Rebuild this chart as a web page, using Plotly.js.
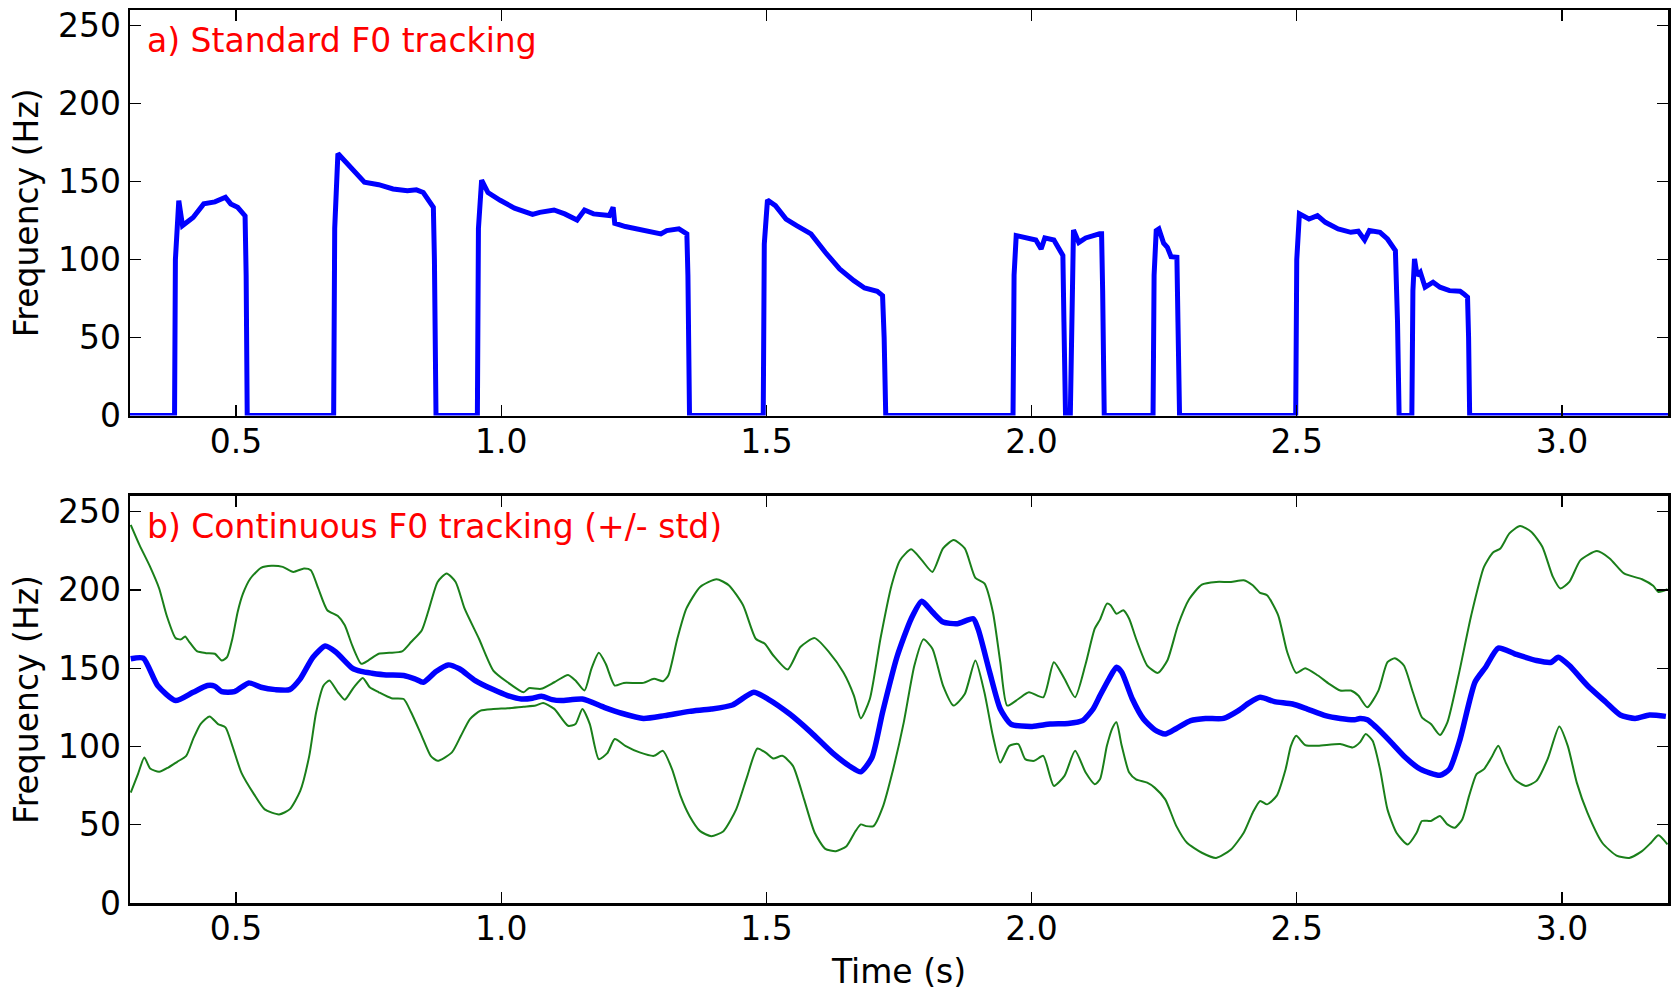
<!DOCTYPE html>
<html>
<head>
<meta charset="utf-8">
<script src="https://cdn.plot.ly/plotly-3.0.1.min.js"></script>
<style>html,body{margin:0;padding:0;background:#fff;}#chart{width:1671px;height:993px;}</style>
</head>
<body>
<div id="chart"></div>
<script>
// ---- Panel a) standard F0 tracking (0 = unvoiced) ----
const tStd = [0.30,0.384,0.3856,0.392,0.399,0.419,0.439,0.46,0.48,0.49,0.503,0.517,0.519,0.521,
  0.684,0.686,0.692,0.719,0.742,0.769,0.796,0.823,0.84,0.853,0.863,0.872,0.874,0.877,
  0.955,0.957,0.963,0.975,0.998,1.025,1.059,1.0726,1.0995,1.1197,1.143,1.157,1.174,1.204,1.211,1.214,1.234,1.254,1.275,1.301,1.312,1.335,1.35,1.352,1.355,
  1.494,1.496,1.502,1.517,1.537,1.557,1.584,1.611,1.638,1.665,1.685,1.709,1.719,1.722,1.725,
  1.965,1.967,1.971,1.988,2.008,2.018,2.025,2.042,2.052,2.059,2.061,2.064,2.073,2.076,2.079,2.089,2.102,2.128,2.132,2.134,2.137,
  2.229,2.231,2.235,2.24,2.249,2.256,2.263,2.274,2.276,2.279,
  2.498,2.500,2.505,2.523,2.539,2.554,2.578,2.602,2.616,2.628,2.637,2.657,2.671,2.686,2.690,2.693,
  2.717,2.719,2.722,2.727,2.733,2.742,2.757,2.77,2.788,2.808,2.815,2.822,2.824,2.826,3.20];
const f0Std = [0,0,100,137.8,121.8,127,135.7,137,140,135.7,133.5,128,90,0,
  0,120,168,158,149.6,148,145.3,144.2,144.7,143,137.8,133.5,100,0,
  0,120,151,143,138,133,129,130.3,131.8,129.3,125.4,131.8,129.3,128.2,133.5,123.3,121.2,119.7,118.6,116.5,118.6,119.7,116.5,90,0,
  0,110,138.2,134.6,126,121.8,116.5,104.7,94,86.5,81.8,79.7,76.9,50,0,
  0,90,115.4,113.9,112.6,106.8,113.9,112.6,105.8,102.6,60,0,0,90,119,111,113.9,116.5,116.5,80,0,
  0,90,118.6,119.7,110.5,107.9,101.9,101.5,60,0,
  0,100,129.3,126,128.2,123.9,119.7,117.5,118.2,112.6,118.6,117.5,113.2,105.8,60,0,
  0,80,100.4,89.7,91.9,82.3,85.5,82.3,80.1,79.7,78,75.9,50,0,0];

// ---- Panel b) continuous F0 tracking: mean ----
const tMean = [0.3014,0.325,0.352,0.386,0.419,0.446,0.46,0.473,0.497,0.524,0.547,0.574,0.601,0.621,0.645,0.668,0.688,0.719,0.736,0.756,0.783,0.816,0.837,0.853,0.877,0.90,0.921,0.951,0.985,1.012,1.038,1.059,1.076,1.096,1.113,1.153,1.194,1.227,1.268,1.308,1.355,1.396,1.436,1.476,1.503,1.544,1.584,1.625,1.658,1.678,1.699,1.719,1.746,1.773,1.793,1.813,1.833,1.86,1.89,1.90,1.921,1.941,1.961,2.001,2.035,2.069,2.096,2.116,2.129,2.146,2.16,2.17,2.19,2.211,2.232,2.252,2.273,2.30,2.328,2.362,2.39,2.41,2.431,2.458,2.492,2.52,2.554,2.582,2.609,2.619,2.633,2.65,2.678,2.705,2.733,2.77,2.788,2.808,2.836,2.856,2.88,2.911,2.952,2.98,2.993,3.014,3.048,3.083,3.11,3.138,3.165,3.196];
const f0Mean = [156,156.4,138.9,129.3,134.6,138.9,138.5,135,135,140.6,137.8,136.3,136.3,143.2,157,164.1,160.3,150,147.9,146.8,145.7,145.3,143.2,141,147.9,152.1,149.6,142.1,136.3,132.5,130.3,130.8,132.1,129.9,129.3,130.3,125,121.2,117.9,119.7,122.4,123.9,126.5,134.6,130.3,120.7,109,95.7,87.2,83.8,92.9,121.8,157,181.6,192.7,185.9,179.5,178.4,181.6,174.1,147.4,123.9,114.3,112.8,114.3,114.7,116.5,123.9,132.5,143.2,150.6,147.4,130.3,117.5,110.7,107.9,111.5,116.5,117.9,117.9,122.9,127.8,131.4,128.6,127.1,123.9,119.7,117.9,117.1,117.9,117.1,112.2,102.6,92.9,85.5,81.6,85.5,104.7,141,150.6,162.8,159.2,154.9,153.8,157,151.7,138.9,128.2,120.1,117.9,120.1,119.2];

// ---- Panel b) mean + std ----
const tUpper = [0.3014,0.318,0.338,0.355,0.369,0.386,0.396,0.404,0.412,0.426,0.443,0.46,0.473,0.483,0.493,0.503,0.513,0.527,0.547,0.567,0.588,0.608,0.628,0.641,0.655,0.672,0.692,0.705,0.719,0.736,0.749,0.769,0.789,0.813,0.83,0.85,0.863,0.88,0.897,0.914,0.931,0.958,0.985,1.012,1.042,1.052,1.075,1.10,1.126,1.14,1.157,1.17,1.184,1.197,1.214,1.231,1.268,1.288,1.305,1.315,1.332,1.349,1.375,1.406,1.429,1.456,1.48,1.497,1.513,1.54,1.564,1.591,1.618,1.645,1.665,1.678,1.695,1.715,1.736,1.752,1.773,1.793,1.813,1.833,1.853,1.874,1.894,1.911,1.927,1.941,1.954,1.975,1.995,2.022,2.042,2.062,2.082,2.102,2.119,2.129,2.142,2.149,2.16,2.173,2.184,2.197,2.218,2.238,2.256,2.276,2.297,2.321,2.348,2.376,2.40,2.417,2.431,2.444,2.465,2.482,2.499,2.516,2.54,2.561,2.582,2.602,2.616,2.633,2.654,2.671,2.685,2.702,2.719,2.736,2.753,2.77,2.784,2.805,2.829,2.853,2.87,2.884,2.901,2.921,2.942,2.963,2.983,2.997,3.014,3.035,3.066,3.09,3.117,3.151,3.172,3.182,3.199];
const f0Upper = [241.5,228.6,214.7,200.9,183.8,169.2,168.4,170.3,166.7,160.9,159.6,159.2,154.9,157,168.8,185.9,197.6,207.3,214.1,215.4,214.7,211.5,213.7,212.6,200.9,187,183.3,177.4,164.5,152.8,154.9,159.2,159.8,160.7,166.7,174.1,187,205.1,210.5,205.1,188,168.8,148.5,141,134.6,137.2,136.8,141,145.7,142.1,135.7,149.6,159.8,152.8,138.9,140.6,140.6,143.2,141.7,145.3,168.8,188,201.9,206.8,203,190.2,168.8,165.6,158.1,149.1,163.5,169.2,160.3,147.4,132.5,117.9,130.3,168.8,203,219,225.9,219,211.5,226.5,231.8,226.5,207.7,204.1,185.9,153.8,126.1,130.3,134.6,131.4,153.8,143.2,131.4,152.8,175.2,181,191.2,190.2,184.8,187,181.6,168.8,151.7,147,154.9,177.4,194,203.4,205.1,205.1,206.2,203,198.1,196.6,183.8,160.3,147,150,145.3,140,135.7,135.7,132.5,125,135.7,153.8,156.4,151.7,134.6,118.6,114.3,107.3,115.4,145.3,183.8,214.7,223.9,226.5,236.1,240.8,237.2,227.6,208.3,200.9,205.1,219,224.8,220.1,210.5,206.8,202.6,198.7,200.4];

// ---- Panel b) mean - std ----
const tLower = [0.3014,0.315,0.327,0.338,0.355,0.372,0.389,0.406,0.419,0.433,0.45,0.466,0.48,0.493,0.51,0.534,0.554,0.581,0.601,0.621,0.638,0.651,0.665,0.676,0.692,0.705,0.722,0.739,0.752,0.769,0.793,0.816,0.83,0.85,0.867,0.88,0.907,0.924,0.941,0.961,0.985,1.012,1.042,1.065,1.079,1.10,1.126,1.14,1.153,1.167,1.184,1.20,1.214,1.234,1.261,1.288,1.305,1.322,1.338,1.355,1.375,1.396,1.419,1.443,1.463,1.483,1.50,1.513,1.53,1.55,1.571,1.591,1.611,1.631,1.651,1.668,1.678,1.688,1.702,1.719,1.739,1.759,1.779,1.796,1.813,1.833,1.853,1.874,1.894,1.911,1.927,1.941,1.958,1.975,1.988,2.005,2.022,2.042,2.062,2.082,2.102,2.119,2.129,2.142,2.153,2.16,2.17,2.184,2.197,2.218,2.232,2.252,2.273,2.293,2.321,2.348,2.376,2.40,2.417,2.431,2.444,2.462,2.479,2.489,2.499,2.516,2.54,2.582,2.606,2.619,2.63,2.643,2.657,2.671,2.688,2.709,2.726,2.736,2.753,2.77,2.784,2.798,2.812,2.825,2.839,2.853,2.867,2.88,2.894,2.911,2.932,2.952,2.973,2.995,3.011,3.028,3.048,3.076,3.103,3.127,3.151,3.168,3.182,3.199];
const f0Lower = [70.5,82.3,92.9,85.9,83.8,86.5,90.2,94,104.7,114.3,119.2,114.3,112.2,100.4,83.3,69.4,59.8,56.6,59.8,71.6,94,121.8,138.9,142.1,134.6,129.9,137.8,143.8,137.8,134.6,130.8,130.3,121.8,106.8,94,90.8,96.2,106.8,117.5,122.9,123.9,124.4,125.4,126.1,127.8,124,113.2,114.3,123.9,114.3,91.9,95.7,104.7,100.4,96.2,94,97.2,85.5,68.4,55.6,45.9,42.7,45.9,59.8,80.1,98.7,95.7,92.3,94,87.6,66.2,44.9,34.6,33.1,36.3,45.9,50.2,49.1,49.1,60.9,85.5,115.4,151.7,168.4,162.4,138.9,126.1,133.5,154.9,134.6,106.8,89.7,100.4,101.5,91.9,90.8,94,74.8,81.2,97.2,83.3,75.9,79,100.4,112.2,115.4,100.4,83.3,79,76.9,73.7,66.2,49.1,38.5,32.1,28.8,34.2,44.9,57.7,65.2,63,68.4,85.5,100.4,106.8,100.9,100.4,101.5,99.4,102.6,107.9,103.6,85.5,59.8,44.9,37.4,44.9,52.4,52.4,55.6,50.2,48.1,53.4,68.4,82.3,85.5,92.9,100.4,89.7,79,74.8,78,91.9,112.8,100.4,76.9,57.7,38.5,30.3,28.8,33.1,38.5,43.2,37.4];

const xTickVals = [0.5,1.0,1.5,2.0,2.5,3.0];
const xTickText = ['0.5','1.0','1.5','2.0','2.5','3.0'];
const yTickVals = [0,50,100,150,200,250];
const yTickText = ['0','50','100','150','200','250'];
const panelLabels = ['a) Standard F0 tracking','b) Continuous F0 tracking (+/- std)'];

const FONT = 'DejaVu Sans, Bitstream Vera Sans, sans-serif';
const FS = 33;
const BLUE = '#0000ff', GREEN = '#1a7f1a';

const traces = [
  {x:tStd, y:f0Std, xaxis:'x', yaxis:'y', mode:'lines', line:{color:BLUE, width:5}, hoverinfo:'x+y'},
  {x:tUpper, y:f0Upper, xaxis:'x2', yaxis:'y2', mode:'lines', line:{color:GREEN, width:2, shape:'spline', smoothing:0.6}},
  {x:tLower, y:f0Lower, xaxis:'x2', yaxis:'y2', mode:'lines', line:{color:GREEN, width:2, shape:'spline', smoothing:0.6}},
  {x:tMean, y:f0Mean, xaxis:'x2', yaxis:'y2', mode:'lines', line:{color:BLUE, width:5.5, shape:'spline', smoothing:0.6}}
];

function xa(anchor, title) {
  const o = {
    anchor: anchor, range:[0.3,3.2], tickvals:xTickVals, ticktext:xTickText,
    ticks:'inside', ticklen:11, tickwidth:1.2, tickcolor:'#000',
    showline:true, linecolor:'#000', linewidth:2.5, mirror:'ticks',
    showgrid:false, zeroline:false, fixedrange:true,
    ticklabelstandoff:-5,
    tickfont:{family:FONT, size:FS, color:'#000'}
  };
  if (title) o.title = {text:title, font:{family:FONT, size:FS, color:'#000'}, standoff:13};
  return o;
}
function ya(anchor, domain) {
  return {
    anchor: anchor, domain: domain, range:[0,260], tickvals:yTickVals, ticktext:yTickText,
    ticks:'inside', ticklen:11, tickwidth:1.2, tickcolor:'#000',
    showline:true, linecolor:'#000', linewidth:2.5, mirror:'ticks',
    showgrid:false, zeroline:false, fixedrange:true,
    tickfont:{family:FONT, size:FS, color:'#000'},
    title:{text:'Frequency (Hz)', font:{family:FONT, size:FS, color:'#000'}, standoff:10}
  };
}

const layout = {
  width:1671, height:993,
  margin:{l:130, r:3, t:10, b:90},
  paper_bgcolor:'#fff', plot_bgcolor:'#fff',
  showlegend:false,
  font:{family:FONT, size:FS, color:'#000'},
  xaxis: xa('y', null),
  yaxis: ya('x', [0.5458, 1]),
  xaxis2: xa('y2', 'Time (s)'),
  yaxis2: ya('x2', [0, 0.4558]),
  annotations: [
    {text:panelLabels[0], xref:'x domain', yref:'y domain', x:0.0098, y:0.925, xanchor:'left', yanchor:'middle', showarrow:false, font:{family:FONT, size:FS, color:'#ff0000'}},
    {text:panelLabels[1], xref:'x2 domain', yref:'y2 domain', x:0.0098, y:0.925, xanchor:'left', yanchor:'middle', showarrow:false, font:{family:FONT, size:FS, color:'#ff0000'}}
  ]
};

Plotly.newPlot('chart', traces, layout, {displayModeBar:false, staticPlot:true});
</script>
</body>
</html>
